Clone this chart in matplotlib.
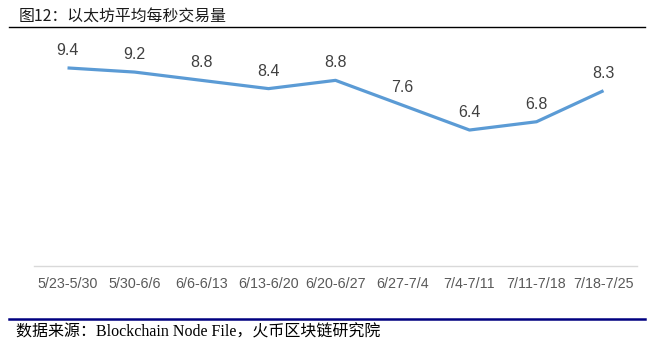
import matplotlib.pyplot as plt
from matplotlib.lines import Line2D

plt.rcParams['font.family'] = ['Liberation Sans', 'Noto Sans CJK SC']

# weekly average Ethereum transactions per second
weeks = ['5/23-5/30', '5/30-6/6', '6/6-6/13', '6/13-6/20', '6/20-6/27',
         '6/27-7/4', '7/4-7/11', '7/11-7/18', '7/18-7/25']
tps = [9.4, 9.2, 8.8, 8.4, 8.8, 7.6, 6.4, 6.8, 8.3]

title = '图12：以太坊平均每秒交易量'
source = '数据来源：Blockchain Node File，火币区块链研究院'

fig = plt.figure(figsize=(6.58, 3.44), dpi=100, facecolor='w')
ax = fig.add_axes([0.0517, 0.2267, 0.9164, 0.6017])

x = list(range(len(weeks)))
ax.plot(x, tps, color='#5B9BD5', lw=2.3, solid_capstyle='butt')
for xi, v in zip(x, tps):
    ax.annotate(f'{v:.1f}', (xi, v), xytext=(0, 12.5), textcoords='offset points',
                ha='center', va='center', fontsize=11.5, color='#404040')

ax.set_xlim(-0.5, len(weeks) - 0.5)
ax.set_ylim(-0.17, 9.83)
ax.set_xticks(x)
ax.set_xticklabels(weeks, fontsize=10.3, color='#595959')
ax.set_yticks([])
ax.tick_params(axis='x', length=0, pad=8)
for spine in ('top', 'right', 'left'):
    ax.spines[spine].set_visible(False)
ax.spines['bottom'].set_color('#d9d9d9')
ax.spines['bottom'].set_linewidth(1.0)

# header and footer
fig.text(19 / 658, 1 - 16 / 344, title, fontsize=11.4, color='#1a1a1a',
         ha='left', va='center', family=['Noto Sans CJK SC'])
fig.add_artist(Line2D([9 / 658, 645 / 658], [1 - 26.5 / 344] * 2, color='black', lw=1.0))
fig.add_artist(Line2D([9 / 658, 645 / 658], [1 - 318.5 / 344] * 2, color='#000080', lw=1.8))
fig.text(16 / 658, 1 - 332 / 344, source, fontsize=11.5, color='black',
         ha='left', va='center', family=['Liberation Serif', 'Noto Sans CJK SC'])

fig.savefig('out.png', dpi=100)
